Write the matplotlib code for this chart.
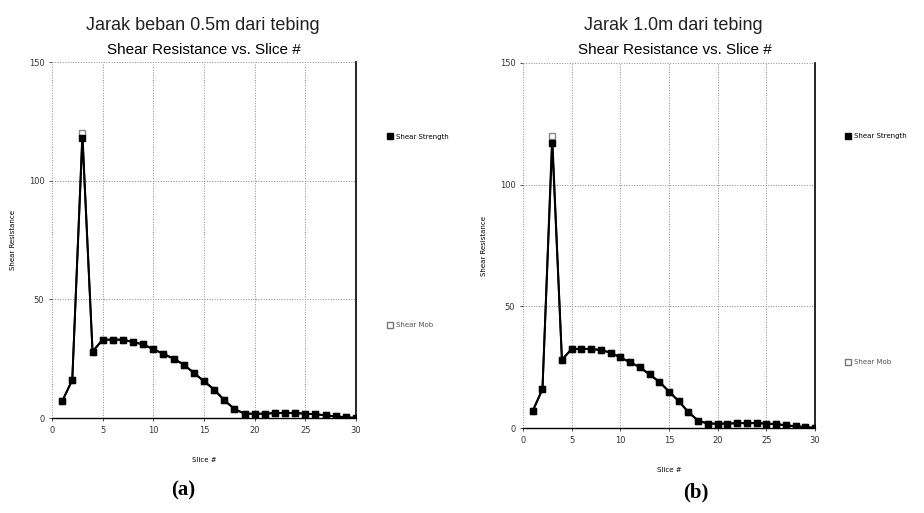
import matplotlib.pyplot as plt
from matplotlib.lines import Line2D

# slice numbers and shear resistance values
slices = list(range(1, 31))
strength_a = [7, 16, 118, 28, 33, 33, 33, 32, 31, 29, 27, 25, 22.5, 19, 15.5,
              12, 7.5, 3.8, 1.8, 1.8, 1.8, 2.1, 2.1, 2.1, 1.8, 1.6, 1.1, 0.7, 0.3, 0]
mob_a = [7, 16, 120, 28, 33, 33, 33, 32, 31, 29, 27, 25, 22.5, 19, 15.5,
         12, 7.5, 3.8, 1.8, 1.8, 1.8, 2.1, 2.1, 2.1, 1.8, 1.6, 1.1, 0.7, 0.3, 0]
strength_b = [7, 16, 117, 28, 32.5, 32.5, 32.5, 32, 31, 29, 27, 25, 22, 19, 15,
              11, 6.5, 3, 1.8, 1.8, 1.8, 2, 2, 2, 1.8, 1.6, 1.1, 0.7, 0.4, 0]
mob_b = [7, 16, 120, 28, 32.5, 32.5, 32.5, 32, 31, 29, 27, 25, 22, 19, 15,
         11, 6.5, 3, 1.8, 1.8, 1.8, 2, 2, 2, 1.8, 1.6, 1.1, 0.7, 0.4, 0]
x_ticks = [0, 5, 10, 15, 20, 25, 30]
y_ticks = [0, 50, 100, 150]

W, H = 924, 513
fig = plt.figure(figsize=(W / 100, H / 100), dpi=100)


def px_axes(left, top, right, bottom):
    return fig.add_axes([left / W, 1 - bottom / H, (right - left) / W, (bottom - top) / H])


def draw_panel(ax, strength, mob, leg_top, leg_bot):
    ax.plot(slices, mob, "s-", color="black", lw=1.4, ms=5,
            mfc="white", mec="#888888", zorder=2)
    ax.plot(slices, strength, "s-", color="black", lw=1.4, ms=5, zorder=3)
    ax.set_xlim(0, 30)
    ax.set_ylim(0, 150)
    ax.set_xticks(x_ticks)
    ax.set_yticks(y_ticks)
    ax.tick_params(labelsize=6, length=2, width=0.6, colors="#333333")
    ax.grid(True, ls=":", lw=0.7, color="#888888")
    for side in ("top", "left"):
        ax.spines[side].set_visible(False)
    ax.spines["right"].set_linewidth(1.2)
    ax.spines["bottom"].set_linewidth(1.0)
    ax.set_xlabel("Slice #", fontsize=5, labelpad=16)
    ax.set_ylabel("Shear Resistance", fontsize=5, labelpad=9)
    h1 = Line2D([], [], marker="s", ls="none", color="black", ms=4)
    h2 = Line2D([], [], marker="s", ls="none", mfc="white", mec="#777777", ms=4)
    l1 = ax.legend([h1], ["Shear Strength"], loc="center left", bbox_to_anchor=leg_top,
                   frameon=False, fontsize=5, handletextpad=0.3, handlelength=1)
    ax.add_artist(l1)
    ax.legend([h2], ["Shear Mob"], loc="center left", bbox_to_anchor=leg_bot,
              frameon=False, fontsize=5, handletextpad=0.3, handlelength=1,
              labelcolor="#555555")


ax_a = px_axes(52, 62, 356, 418)
draw_panel(ax_a, strength_a, mob_a, (1.08, 0.79), (1.08, 0.26))
ax_b = px_axes(523, 63, 815, 428)
draw_panel(ax_b, strength_b, mob_b, (1.08, 0.80), (1.08, 0.18))

fig.text(203 / W, 1 - 25 / H, "Jarak beban 0.5m dari tebing", ha="center", va="center",
         fontsize=13, family="Liberation Sans", color="#222222")
fig.text(204 / W, 1 - 50 / H, "Shear Resistance vs. Slice #", ha="center", va="center",
         fontsize=11, family="Liberation Sans", color="black")
fig.text(673 / W, 1 - 25 / H, "Jarak 1.0m dari tebing", ha="center", va="center",
         fontsize=13, family="Liberation Sans", color="#222222")
fig.text(675 / W, 1 - 50 / H, "Shear Resistance vs. Slice #", ha="center", va="center",
         fontsize=11, family="Liberation Sans", color="black")
fig.text(183 / W, 1 - 490 / H, "(a)", ha="center", va="center", fontsize=15,
         family="Liberation Serif", weight="bold")
fig.text(696 / W, 1 - 492 / H, "(b)", ha="center", va="center", fontsize=15,
         family="Liberation Serif", weight="bold")

fig.savefig("out.png", dpi=100)
